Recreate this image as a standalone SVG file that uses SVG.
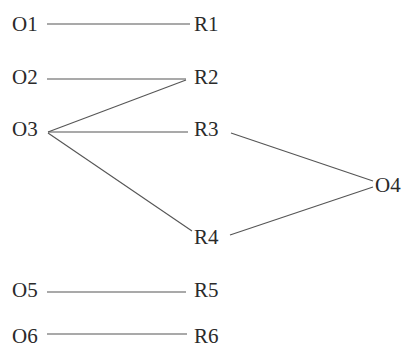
<svg xmlns="http://www.w3.org/2000/svg" width="406" height="349" viewBox="0 0 406 349">
<style>
text { font-family: "Liberation Serif", "Times New Roman", serif; font-size: 21px; fill: #2a2a2a; }
.c line { stroke: #555; stroke-width: 1.1; fill: none; }
</style>
<rect width="406" height="349" fill="#fff"/>
<g class="c" id="connectors">
<line x1="47" y1="24" x2="190" y2="24"/>
<line x1="47" y1="79" x2="186" y2="79"/>
<line x1="48" y1="132" x2="186" y2="80"/>
<line x1="48" y1="132" x2="188" y2="132"/>
<line x1="48" y1="133" x2="192" y2="231"/>
<line x1="231" y1="133" x2="373" y2="181"/>
<line x1="230" y1="235" x2="373" y2="187"/>
<line x1="47" y1="292" x2="186" y2="292"/>
<line x1="47" y1="334" x2="187" y2="334"/>
</g>
<g id="O1"><text x="12" y="31">O1</text></g>
<g id="R1"><text x="194" y="31">R1</text></g>
<g id="O2"><text x="12" y="84">O2</text></g>
<g id="R2"><text x="194" y="84">R2</text></g>
<g id="O3"><text x="12" y="136">O3</text></g>
<g id="R3"><text x="194" y="136">R3</text></g>
<g id="O4"><text x="375" y="192">O4</text></g>
<g id="R4"><text x="194" y="244">R4</text></g>
<g id="O5"><text x="12" y="297">O5</text></g>
<g id="R5"><text x="194" y="297">R5</text></g>
<g id="O6"><text x="12" y="343">O6</text></g>
<g id="R6"><text x="194" y="343">R6</text></g>
</svg>
